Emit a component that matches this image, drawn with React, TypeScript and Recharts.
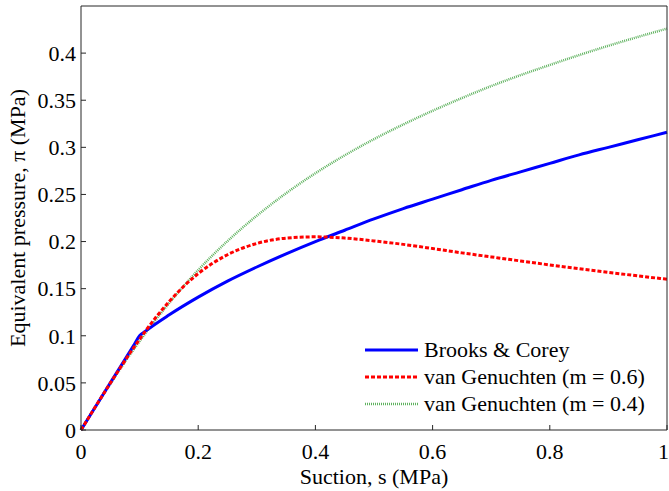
import { LineChart, Line, XAxis, YAxis } from 'recharts'

// suction values (MPa)
const suction = [0, 0.05, 0.09, 0.1, 0.11, 0.15, 0.2, 0.25, 0.3, 0.35, 0.4, 0.45, 0.5, 0.55, 0.6, 0.65, 0.7, 0.75, 0.8, 0.85, 0.9, 0.95, 1]

// equivalent pressure (MPa)
const brooksCorey = [0, 0.05, 0.09, 0.1, 0.1049, 0.122, 0.141, 0.158, 0.173, 0.187, 0.2, 0.212, 0.224, 0.235, 0.245, 0.255, 0.265, 0.274, 0.283, 0.292, 0.3, 0.308, 0.316]
const vanGenuchten06 = [0, 0.0497, 0.0874, 0.0963, 0.105, 0.136, 0.166, 0.186, 0.198, 0.2036, 0.205, 0.2037, 0.2007, 0.197, 0.1926, 0.188, 0.1837, 0.1794, 0.1752, 0.1712, 0.1673, 0.1636, 0.16]
const vanGenuchten04 = [0, 0.049, 0.0856, 0.0942, 0.1027, 0.1344, 0.1698, 0.2005, 0.2274, 0.2513, 0.2725, 0.2915, 0.3087, 0.3243, 0.3388, 0.3523, 0.365, 0.3766, 0.3874, 0.3979, 0.4078, 0.4171, 0.426]

const xTicks = [0, 0.2, 0.4, 0.6, 0.8, 1]
const yTicks = [0, 0.05, 0.1, 0.15, 0.2, 0.25, 0.3, 0.35, 0.4]

const seriesNames = ['Brooks & Corey', 'van Genuchten (m = 0.6)', 'van Genuchten (m = 0.4)']

const data = suction.map((s, i) => ({
  s,
  bc: brooksCorey[i],
  vg6: vanGenuchten06[i],
  vg4: vanGenuchten04[i],
}))

const FONT = '"Liberation Serif", "Times New Roman", Tinos, serif'
const AXIS = '#262626'
const GREEN = '#5fb25f'

const legendItems = [
  { name: seriesNames[0], color: '#0000ff', width: 3, dash: undefined },
  { name: seriesNames[1], color: '#ff0000', width: 3, dash: '4 2' },
  { name: seriesNames[2], color: GREEN, width: 2.5, dash: '1 1' },
]

function LegendBox() {
  return (
    <div style={{ position: 'absolute', left: 365, top: 336, fontFamily: FONT, fontSize: 22, color: '#000', lineHeight: '27px' }}>
      {legendItems.map((it) => (
        <div key={it.name} style={{ display: 'flex', alignItems: 'center', height: 27 }}>
          <svg width={53} height={10} style={{ marginRight: 6 }}>
            <line x1={0} y1={5} x2={53} y2={5} stroke={it.color} strokeWidth={it.width} strokeDasharray={it.dash} />
          </svg>
          <span>{it.name}</span>
        </div>
      ))}
    </div>
  )
}

export default function App() {
  const tickStyle = { fill: '#000', fontSize: 22, fontFamily: FONT }
  const labelStyle = { fill: '#000', fontSize: 22, fontFamily: FONT }
  return (
    <div style={{ position: 'absolute', left: 0, top: 0, width: 669, height: 491, background: '#fff' }}>
      <LineChart width={669} height={491} data={data} margin={{ top: 5, right: 1, bottom: 0, left: 0 }}>
        <XAxis
          xAxisId="bottom"
          dataKey="s"
          type="number"
          domain={[0, 1]}
          ticks={xTicks}
          height={61}
          stroke={AXIS}
          tickSize={-5}
          tickMargin={18}
          tick={tickStyle}
          label={{ value: 'Suction, s (MPa)', position: 'insideBottom', offset: 7, style: labelStyle }}
        />
        <XAxis xAxisId="top" dataKey="s" type="number" domain={[0, 1]} ticks={xTicks} orientation="top" height={1} stroke={AXIS} tickSize={-5} tick={false} />
        <YAxis
          yAxisId="left"
          type="number"
          domain={[0, 0.45]}
          ticks={yTicks}
          width={81}
          stroke={AXIS}
          tickSize={-5}
          tickMargin={10}
          tick={tickStyle}
          label={{ value: 'Equivalent pressure, π (MPa)', angle: -90, position: 'insideLeft', offset: 17, style: { ...labelStyle, textAnchor: 'middle' } }}
        />
        <YAxis yAxisId="right" type="number" domain={[0, 0.45]} ticks={yTicks} orientation="right" width={1} stroke={AXIS} tickSize={-5} tick={false} />
        <Line xAxisId="bottom" yAxisId="left" type="monotone" dataKey="vg4" name={seriesNames[2]} stroke={GREEN} strokeWidth={2.5} strokeDasharray="1 1" dot={false} isAnimationActive={false} />
        <Line xAxisId="bottom" yAxisId="left" type="monotone" dataKey="bc" name={seriesNames[0]} stroke="#0000ff" strokeWidth={3} dot={false} isAnimationActive={false} />
        <Line xAxisId="bottom" yAxisId="left" type="monotone" dataKey="vg6" name={seriesNames[1]} stroke="#ff0000" strokeWidth={3} strokeDasharray="4 2" dot={false} isAnimationActive={false} />
      </LineChart>
      <LegendBox />
    </div>
  )
}
